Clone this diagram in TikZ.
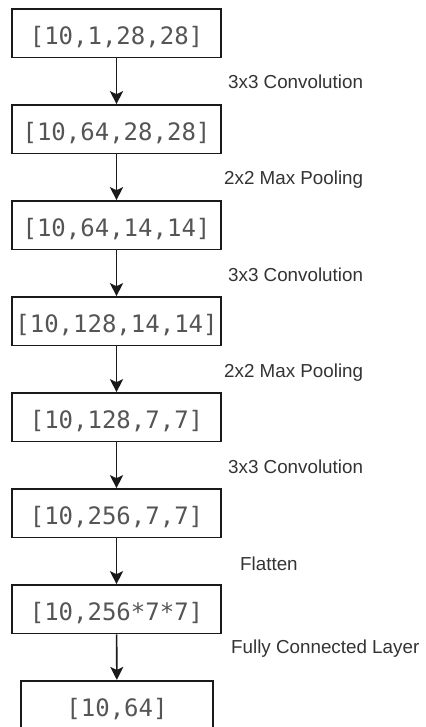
\documentclass[tikz,border=0pt]{standalone}
\usepackage{fontspec}
\setmainfont{Liberation Sans}
\newfontfamily\shapefont{DejaVu Sans Mono}
\usetikzlibrary{arrows.meta}

\definecolor{edgecol}{HTML}{1A1A1A}
\definecolor{shapetxt}{HTML}{555555}
\definecolor{optxt}{HTML}{333333}

\tikzset{
  tensor/.style={draw=edgecol, line width=1.6pt, fill=white,
    minimum width=209pt, minimum height=48.5pt, inner sep=0pt,
    text height=22pt, text depth=0pt,
    font=\shapefont\fontsize{24pt}{24pt}\selectfont, text=shapetxt},
  oplabel/.style={anchor=base west, inner sep=0pt,
    font=\fontsize{18.8pt}{18.8pt}\selectfont, text=optxt},
  flow/.style={draw=edgecol, line width=1.6pt,
    -{Stealth[length=13pt, width=13pt, inset=3pt]}}
}

\begin{document}
\begin{tikzpicture}[x=1pt, y=-1pt]
  \useasboundingbox (0,0) rectangle (425,727);
  \clip (0,0) rectangle (425,727);

  % tensor shapes, top to bottom
  \node[tensor] (t1) at (116.5, 33.25)  {[10,1,28,28]};
  \node[tensor] (t2) at (116.5, 129.25) {[10,64,28,28]};
  \node[tensor] (t3) at (116.5, 225.25) {[10,64,14,14]};
  \node[tensor] (t4) at (116.5, 321.25) {[10,128,14,14]};
  \node[tensor] (t5) at (116.5, 417.25) {[10,128,7,7]};
  \node[tensor] (t6) at (116.5, 513.25) {[10,256,7,7]};
  \node[tensor] (t7) at (116.5, 609.25) {[10,256*7*7]};
  \node[tensor, minimum width=192pt] (t8) at (117, 705) {[10,64]};

  % layer connectors
  \draw[flow] (t1) -- (t2);
  \draw[flow] (t2) -- (t3);
  \draw[flow] (t3) -- (t4);
  \draw[flow] (t4) -- (t5);
  \draw[flow] (t5) -- (t6);
  \draw[flow] (t6) -- (t7);
  \draw[flow] (t7) -- (t8);

  % operation names
  \node[oplabel] (op1) at (228, 89)  {3x3 Convolution};
  \node[oplabel] (op2) at (224, 185) {2x2 Max Pooling};
  \node[oplabel] (op3) at (228, 281) {3x3 Convolution};
  \node[oplabel] (op4) at (224, 377) {2x2 Max Pooling};
  \node[oplabel] (op5) at (228, 473) {3x3 Convolution};
  \node[oplabel] (op6) at (240, 570) {Flatten};
  \node[oplabel] (op7) at (231, 653) {Fully Connected Layer};
\end{tikzpicture}
\end{document}
